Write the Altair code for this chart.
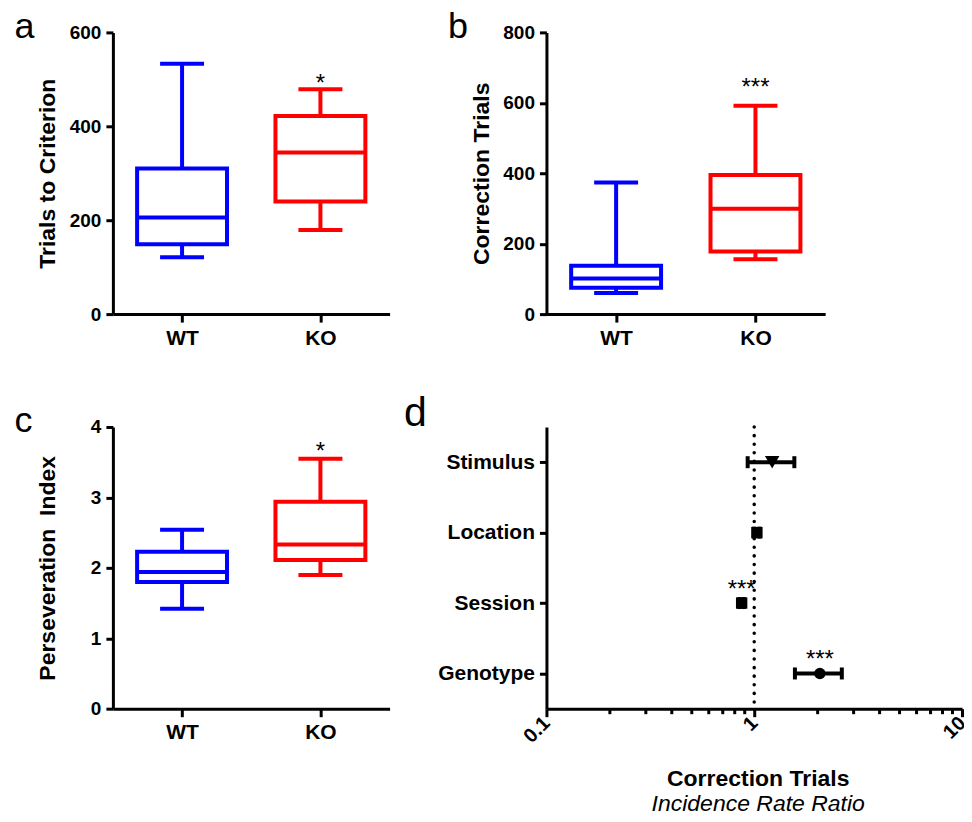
import altair as alt
import pandas as pd

FONT = "Liberation Sans"
GROUPS = ["WT", "KO"]
COLORS = ["#0000ff", "#ff0000"]

# Panel a: Trials to Criterion (box-plot statistics)
A_MIN = [121, 179]
A_Q1 = [149, 240]
A_MED = [206, 344]
A_Q3 = [310, 422]
A_MAX = [533, 479]
A_SIG = ["", "*"]

# Panel b: Correction Trials
B_MIN = [60, 156]
B_Q1 = [75, 178]
B_MED = [101, 299]
B_Q3 = [137, 395]
B_MAX = [374, 592]
B_SIG = ["", "***"]

# Panel c: Perseveration Index
C_MIN = [1.42, 1.90]
C_Q1 = [1.80, 2.11]
C_MED = [1.94, 2.33]
C_Q3 = [2.23, 2.94]
C_MAX = [2.54, 3.55]
C_SIG = ["", "*"]

# Panel d: incidence rate ratios
TERMS = ["Stimulus", "Location", "Session", "Genotype"]
D_EST = [1.22, 1.03, 0.87, 2.07]
D_LO = [0.93, 1.00, 0.85, 1.57]
D_HI = [1.56, 1.06, 0.89, 2.64]
D_SIG = ["", "", "***", "***"]
D_SHAPES = ["triangle-down", "square", "square", "circle"]
REF = [1.0]
MAJOR = [0.1, 1, 10]
MINOR = [0.2, 0.3, 0.4, 0.5, 0.6, 0.7, 0.8, 0.9, 2, 3, 4, 5, 6, 7, 8, 9]

H = 282
LETTER_SIZE = 36
LETTER_DY = 5

axis_common = dict(grid=False, domainColor="black", domainWidth=3, tickColor="black",
                   tickWidth=3, labelColor="black", labelFont=FONT, labelFontWeight="bold",
                   titleFont=FONT, titleColor="black")


def box_panel(mins, q1s, meds, q3s, maxs, sigs, ymax, yvals, ytitle, letter, width, sig_dy):
    df = pd.DataFrame({"group": GROUPS, "lo": mins, "q1": q1s, "med": meds,
                       "q3": q3s, "hi": maxs, "sig": sigs})
    xenc = alt.X("group:N", sort=GROUPS, scale=alt.Scale(type="point", padding=0.5),
                 axis=alt.Axis(title=letter, titleX=-99, titleY=-(H - LETTER_DY), titleAngle=0,
                               titleAlign="left", titleBaseline="alphabetic",
                               titleFontSize=LETTER_SIZE, titleFontWeight="normal",
                               labelAngle=0, labelFontSize=21, labelPadding=5, tickSize=8,
                               **axis_common))
    yscale = alt.Scale(domain=[0, ymax], nice=False)
    yaxis = alt.Axis(values=yvals, title=ytitle, titleX=-58, titleY=H / 2, titleAngle=270,
                     titleAlign="center", titleBaseline="alphabetic", titleFontSize=23,
                     titleFontWeight="bold", labelFontSize=19, labelPadding=5, tickSize=7,
                     **axis_common)
    cscale = alt.Scale(domain=GROUPS, range=COLORS)
    base = alt.Chart(df)

    def Y(f):
        return alt.Y(f, scale=yscale, axis=yaxis)

    whisk = base.mark_rule(strokeWidth=4).encode(
        x=xenc, y=Y("lo:Q"), y2="hi:Q", color=alt.Color("group:N", scale=cscale, legend=None))
    box = base.mark_bar(size=90, fill="white", fillOpacity=1, strokeWidth=4).encode(
        x=xenc, y=Y("q1:Q"), y2="q3:Q", stroke=alt.Stroke("group:N", scale=cscale, legend=None))
    med = base.mark_tick(size=92, thickness=4, opacity=1).encode(
        x=xenc, y=Y("med:Q"), color=alt.Color("group:N", scale=cscale, legend=None))
    cap_lo = base.mark_tick(size=44, thickness=4, opacity=1).encode(
        x=xenc, y=Y("lo:Q"), color=alt.Color("group:N", scale=cscale, legend=None))
    cap_hi = base.mark_tick(size=44, thickness=4, opacity=1).encode(
        x=xenc, y=Y("hi:Q"), color=alt.Color("group:N", scale=cscale, legend=None))
    sig = base.mark_text(font=FONT, fontSize=24, baseline="alphabetic", dy=sig_dy,
                         color="black").encode(x=xenc, y=Y("hi:Q"), text="sig:N")
    return alt.layer(whisk, box, med, cap_lo, cap_hi, sig).properties(width=width, height=H)


pa = box_panel(A_MIN, A_Q1, A_MED, A_Q3, A_MAX, A_SIG, 600, [0, 200, 400, 600],
               "Trials to Criterion", "a", 277, 2)
pb = box_panel(B_MIN, B_Q1, B_MED, B_Q3, B_MAX, B_SIG, 800, [0, 200, 400, 600, 800],
               "Correction Trials", "b", 279, -11)
pc = box_panel(C_MIN, C_Q1, C_MED, C_Q3, C_MAX, C_SIG, 4, [0, 1, 2, 3, 4],
               "Perseveration\u00a0 Index", "c", 277, 0)

# Panel d
DW = 416
dfd = pd.DataFrame({"term": TERMS, "est": D_EST, "lo": D_LO, "hi": D_HI, "sig": D_SIG})
xscale = alt.Scale(type="log", domain=[0.1, 10], nice=False)
yenc = alt.Y("term:N", sort=TERMS, scale=alt.Scale(type="point", padding=0.5),
             axis=alt.Axis(title="d", titleX=-143, titleY=-1, titleAngle=0, titleAlign="left",
                           titleBaseline="alphabetic", titleFontSize=41, titleFontWeight="normal",
                           labelFontSize=21, labelPadding=5, tickSize=7, **axis_common))
x_major = alt.Axis(values=MAJOR, format="~g", labelAngle=315, labelAlign="right",
                   labelBaseline="middle", labelFontSize=20, labelPadding=3, labelOverlap=False,
                   labelFlush=False, tickSize=8, orient="bottom",
                   title="Correction Trials", titleX=(970 - 547) / 2, titleY=77,
                   titleAlign="center", titleBaseline="alphabetic", titleFontSize=23,
                   titleFontWeight="bold", **axis_common)
x_minor = alt.Axis(values=MINOR, labels=False, domain=False, tickSize=5, tickWidth=3,
                   tickColor="black", grid=False, orient="bottom",
                   title="Incidence Rate Ratio", titleX=(970 - 547) / 2, titleY=102,
                   titleAlign="center", titleBaseline="alphabetic", titleFontSize=23,
                   titleFontWeight="normal", titleFontStyle="italic", titleFont=FONT,
                   titleColor="black")

ref = alt.Chart(pd.DataFrame({"ref": REF})).mark_rule(
    strokeDash=[0.1, 8.5], strokeCap="round", strokeWidth=3.5, color="black").encode(
    x=alt.X("ref:Q", scale=xscale, axis=None))
bars = alt.Chart(dfd).mark_rule(strokeWidth=4, color="black").encode(
    x=alt.X("lo:Q", scale=xscale, axis=x_major), x2="hi:Q", y=yenc)
caps_lo = alt.Chart(dfd).mark_tick(size=12, thickness=4, color="black", opacity=1).encode(
    x=alt.X("lo:Q", scale=xscale, axis=None), y=yenc)
caps_hi = alt.Chart(dfd).mark_tick(size=12, thickness=4, color="black", opacity=1).encode(
    x=alt.X("hi:Q", scale=xscale, axis=None), y=yenc)
pts = alt.Chart(dfd).mark_point(filled=True, opacity=1, color="black").encode(
    x=alt.X("est:Q", scale=xscale, axis=x_minor), y=yenc,
    shape=alt.Shape("term:N", scale=alt.Scale(domain=TERMS, range=D_SHAPES), legend=None),
    size=alt.condition(alt.datum.term == "Stimulus", alt.value(210), alt.value(130)))
stars = alt.Chart(dfd).mark_text(font=FONT, fontSize=24, baseline="alphabetic", dy=-6,
                                 color="black").encode(
    x=alt.X("est:Q", scale=xscale, axis=None), y=yenc, text="sig:N")

pd_chart = alt.layer(ref, bars, caps_lo, caps_hi, pts, stars).resolve_axis(
    x="independent").properties(width=DW, height=H)

chart = alt.concat(pa, pb, pc, pd_chart, columns=2,
                   spacing={"row": 113, "column": 157}, bounds="flush", align="each").properties(
    padding={"left": 6, "top": 0, "right": -6, "bottom": -4},
    background="white",
).configure_view(stroke=None)

chart.save("out.html", embed_options={"renderer": "svg", "actions": False})
